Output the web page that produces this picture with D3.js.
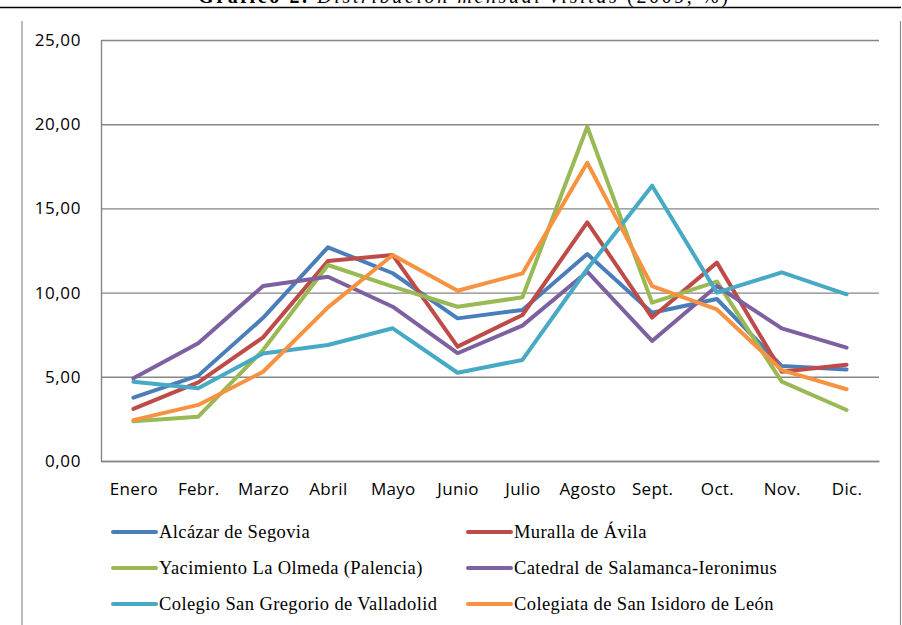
<!DOCTYPE html>
<html>
<head>
<meta charset="utf-8">
<script src="https://cdn.jsdelivr.net/npm/d3@7"></script>
<style>
  body { margin: 0; background: #fff; }
  svg { display: block; }
</style>
</head>
<body>
<svg id="chart" width="902" height="625"></svg>
<script>
// months on the x axis
const months = ["Enero", "Febr.", "Marzo", "Abril", "Mayo", "Junio", "Julio", "Agosto", "Sept.", "Oct.", "Nov.", "Dic."];
const yTicks = [0, 5, 10, 15, 20, 25];

// % of yearly visits per month
const alcazar   = [3.76, 5.07, 8.5, 12.69, 11.15, 8.47, 8.97, 12.29, 8.8, 9.62, 5.64, 5.44];
const muralla   = [3.09, 4.67, 7.34, 11.88, 12.23, 6.79, 8.67, 14.17, 8.52, 11.78, 5.3, 5.72];
const olmeda    = [2.36, 2.63, 6.59, 11.64, 10.35, 9.16, 9.72, 19.85, 9.4, 10.65, 4.71, 3.03];
const catedral  = [4.91, 6.99, 10.39, 10.94, 9.16, 6.4, 8.04, 11.24, 7.13, 10.39, 7.88, 6.73];
const sanGregorio = [4.71, 4.32, 6.39, 6.89, 7.88, 5.24, 6.0, 11.4, 16.35, 10.0, 11.2, 9.9];
const sanIsidoro  = [2.43, 3.33, 5.3, 9.12, 12.23, 10.11, 11.14, 17.71, 10.39, 9.0, 5.4, 4.26];

const seriesNames = [
  "Alcázar de Segovia", "Muralla de Ávila",
  "Yacimiento La Olmeda (Palencia)", "Catedral de Salamanca-Ieronimus",
  "Colegio San Gregorio de Valladolid", "Colegiata de San Isidoro de León"
];
const seriesValues = [alcazar, muralla, olmeda, catedral, sanGregorio, sanIsidoro];
const colors = ["#4a7ebb", "#be4b48", "#98b954", "#7d60a0", "#46aac5", "#f69240"];

const svg = d3.select("#chart");
const plotLeft = 101, plotRight = 879, plotTop = 40, plotBottom = 461;

const x = d3.scalePoint().domain(months).range([plotLeft, plotRight]).padding(0.5);
const y = d3.scaleLinear().domain([0, 25]).range([plotBottom, plotTop]);

const esLocale = d3.formatLocale({ decimal: ",", thousands: ".", grouping: [3], currency: ["", " €"] });
const fmt = esLocale.format(".2f");

// title sits above the page edge, only its lower part shows
const title = svg.append("text")
  .attr("x", 463).attr("y", 3)
  .attr("text-anchor", "middle")
  .style("font-family", "'Liberation Serif', 'Times New Roman', serif")
  .style("font-size", "20px")
  .attr("textLength", 530);
title.append("tspan").style("font-weight", "bold").text("Gráfico 2. ");
title.append("tspan").style("font-style", "italic").text("Distribución mensual visitas ");
title.append("tspan").text("(2009, %)");

svg.append("line")
  .attr("x1", 0).attr("x2", 901).attr("y1", 7.5).attr("y2", 7.5)
  .attr("stroke", "#000").attr("stroke-width", 1.5);

// chart frame (sides only, top is cut off)
svg.append("line").attr("x1", 22).attr("x2", 22).attr("y1", 21).attr("y2", 625)
  .attr("stroke", "#8c8c8c").attr("stroke-width", 1.2);
svg.append("line").attr("x1", 900.5).attr("x2", 900.5).attr("y1", 21).attr("y2", 625)
  .attr("stroke", "#8c8c8c").attr("stroke-width", 1.2);

// gridlines
svg.append("g")
  .attr("transform", `translate(${plotLeft},0)`)
  .call(d3.axisLeft(y).tickValues(yTicks).tickSize(-(plotRight - plotLeft)).tickFormat(""))
  .call(g => g.select(".domain").remove())
  .call(g => g.selectAll("line").attr("stroke", "#868686").attr("stroke-width", 1.4));

// y axis
svg.append("g")
  .attr("transform", `translate(${plotLeft},0)`)
  .call(d3.axisLeft(y).tickValues(yTicks).tickSize(0).tickPadding(20).tickFormat(fmt))
  .call(g => g.select(".domain").attr("stroke", "#868686").attr("stroke-width", 1.4))
  .call(g => g.selectAll("text")
    .style("font-family", "'Open Sans', sans-serif")
    .style("font-size", "17px")
    .style("letter-spacing", "0.6px")
    .attr("fill", "#000"));

// x axis
svg.append("g")
  .attr("transform", `translate(0,${plotBottom})`)
  .call(d3.axisBottom(x).tickSize(0).tickPadding(22))
  .call(g => g.select(".domain").attr("stroke", "#868686").attr("stroke-width", 1.4))
  .call(g => g.selectAll("text")
    .style("font-family", "'Open Sans', sans-serif")
    .style("font-size", "17px")
    .style("letter-spacing", "0.3px")
    .attr("fill", "#000"));

// lines
const line = d3.line()
  .x((d, i) => x(months[i]))
  .y(d => y(d));

svg.append("g")
  .selectAll("path")
  .data(seriesValues)
  .join("path")
  .attr("d", line)
  .attr("fill", "none")
  .attr("stroke", (d, i) => colors[i])
  .attr("stroke-width", 4)
  .attr("stroke-linejoin", "round")
  .attr("stroke-linecap", "round");

// legend, two columns
const legend = svg.append("g")
  .selectAll("g")
  .data(seriesNames)
  .join("g")
  .attr("transform", (d, i) => `translate(${i % 2 ? 468 : 113},${532 + Math.floor(i / 2) * 36})`);

legend.append("line")
  .attr("x1", 0).attr("x2", 43)
  .attr("stroke", (d, i) => colors[i])
  .attr("stroke-width", 4)
  .attr("stroke-linecap", "round");

legend.append("text")
  .attr("x", 46).attr("y", 6)
  .style("font-family", "'Liberation Serif', 'Times New Roman', serif")
  .style("font-size", "18.5px")
  .style("letter-spacing", "0.4px")
  .text(d => d);
</script>
</body>
</html>
